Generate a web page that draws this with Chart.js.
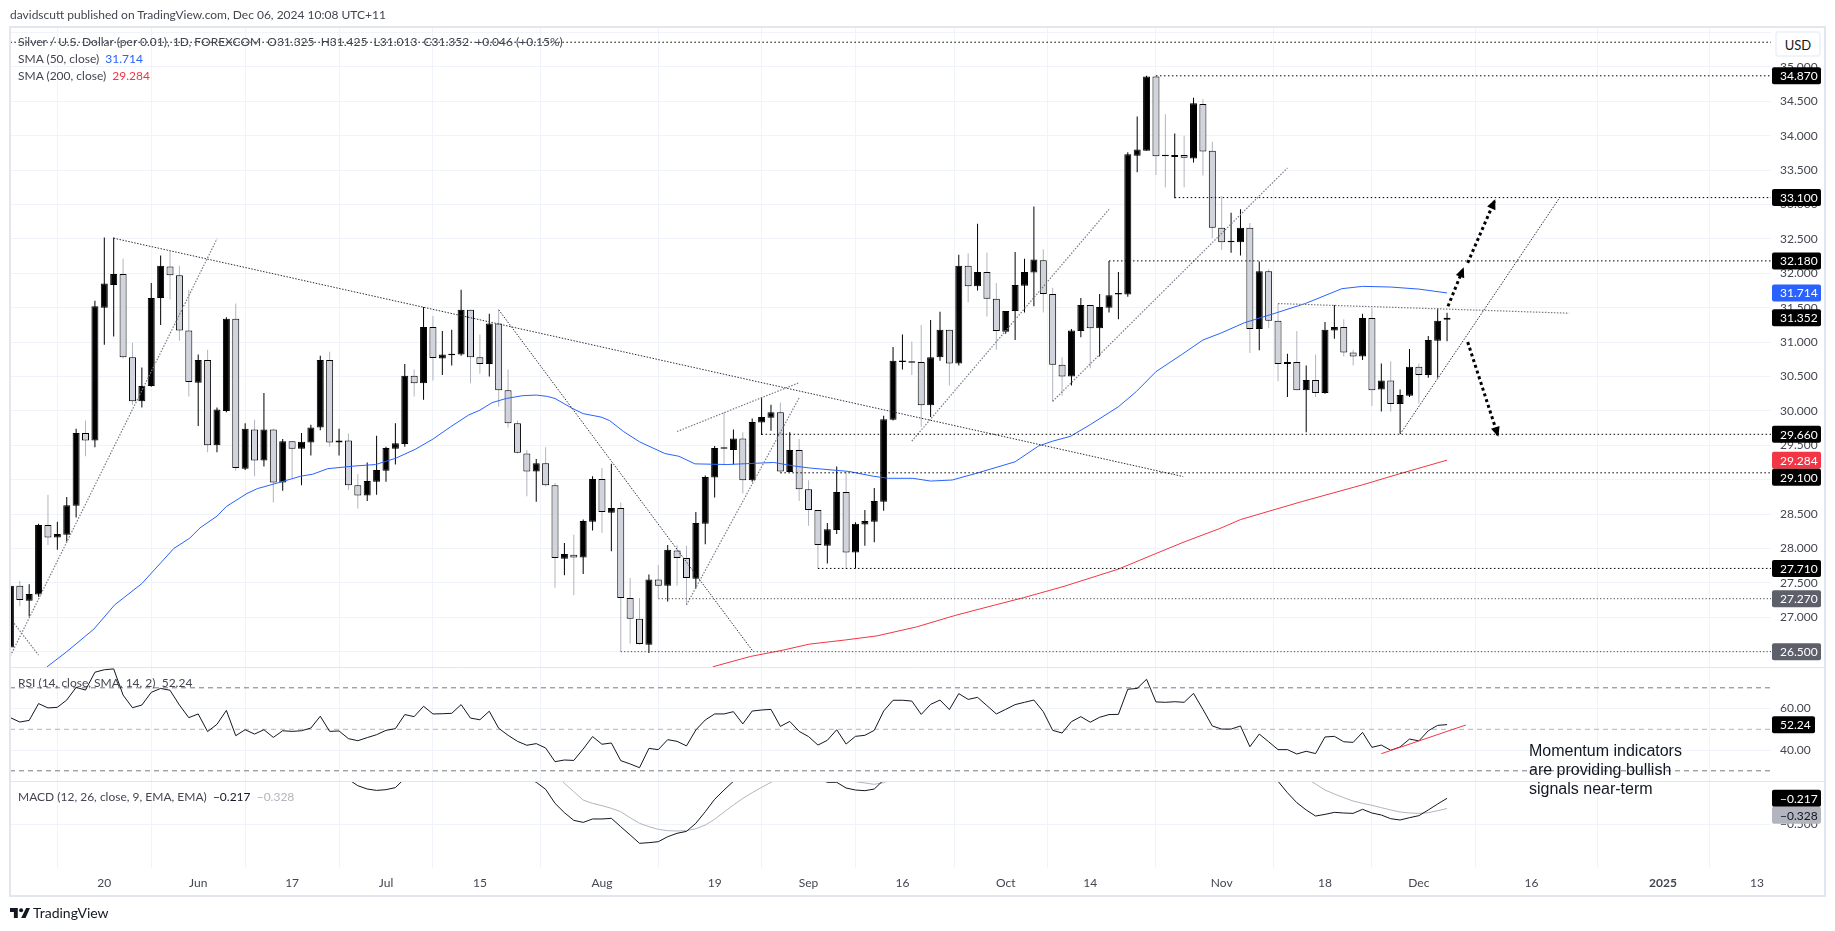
<!DOCTYPE html>
<html><head><meta charset="utf-8">
<script src="https://cdn.jsdelivr.net/npm/chart.js@4"></script>
<style>
html,body{margin:0;padding:0;background:#fff;overflow:hidden}
#wrap{position:relative;width:1835px;height:931px}
canvas{position:absolute;left:0;top:0}
.t{position:absolute;white-space:pre;font:12px Lato,sans-serif;color:#434651;line-height:16px}
.n{position:absolute;white-space:pre;font:16px "Liberation Sans",Arial,sans-serif;color:#131722;line-height:19px}
</style></head><body><div id="wrap">
<canvas id="c" width="1835" height="931"></canvas>
<div class="t" style="left:10px;top:7px">davidscutt published on TradingView.com, Dec 06, 2024 10:08 UTC+11</div>
<div class="t" style="left:18px;top:34px">Silver / U.S. Dollar (per 0.01), 1D, FOREXCOM  O31.325  H31.425  L31.013  C31.352  +0.046 (+0.15%)</div>
<div class="t" style="left:18px;top:51px">SMA (50, close)  <span style="color:#2962ff">31.714</span></div>
<div class="t" style="left:18px;top:68px">SMA (200, close)  <span style="color:#f23645">29.284</span></div>
<div class="t" style="left:18px;top:675px">RSI (14, close, SMA, 14, 2)  52.24</div>
<div class="t" style="left:18px;top:789px">MACD (12, 26, close, 9, EMA, EMA)  <span style="color:#131722">−0.217</span>  <span style="color:#b2b5be">−0.328</span></div>
<div class="n" style="left:1529px;top:741px">Momentum indicators
are providing bullish
signals near-term</div>
<div class="t" style="left:1775px;top:31px;width:46px;height:26px;line-height:24px;font-size:13px;text-align:center;border:2px solid #f0f3fa;border-radius:4px;box-sizing:border-box;background:#fff;color:#131722">USD</div>
<svg style="position:absolute;left:10px;top:908px" width="20" height="10" viewBox="0 0 36 18"><path fill="#131722" d="M0 0H14V18H7V7H0Z"/><circle cx="20" cy="4" r="3.6" fill="#131722"/><path fill="#131722" d="M29 0H36L28 18H20Z"/></svg>
<div class="t" style="left:33px;top:905px;font-size:14px;color:#131722">TradingView</div>
</div>
<script>
// ---- candles, one value per trading day starting 6 May 2024 ----
const opens=[26.56,27.46,27.24,27.33,28.34,28.16,28.20,28.62,29.68,29.57,31.50,31.83,31.99,30.78,30.14,30.36,31.64,32.10,31.97,31.17,30.41,30.74,29.50,30.00,31.34,29.16,29.73,29.28,29.73,28.96,29.56,29.45,29.54,29.76,30.74,29.54,29.57,28.92,28.77,28.97,29.13,29.45,29.52,30.51,30.40,31.22,30.76,30.81,30.82,31.47,30.78,30.68,31.27,30.30,29.82,29.38,29.12,29.24,28.92,27.85,27.91,27.87,28.39,29.01,28.52,28.59,27.28,26.98,26.60,27.55,27.46,27.97,27.86,27.56,28.36,29.03,29.46,29.43,29.60,28.99,29.83,29.90,29.98,29.11,29.43,28.86,28.56,28.04,28.27,28.82,27.94,28.35,28.39,28.68,29.87,30.71,30.72,30.71,30.08,30.78,31.18,30.69,32.11,31.81,32.02,31.63,31.15,31.45,31.82,32.01,32.19,31.70,30.67,30.50,31.16,31.54,31.20,31.50,31.69,31.69,33.71,33.78,34.86,33.71,33.69,33.72,33.67,34.46,33.78,32.66,32.45,32.45,32.66,31.19,32.03,31.31,30.68,30.71,30.30,30.45,30.26,31.17,31.22,30.85,30.79,31.35,30.31,30.44,30.10,30.22,30.64,30.52,31.02,31.325];
const highs=[27.50,27.53,27.48,28.36,28.78,28.39,28.75,29.74,29.86,31.60,32.52,32.52,32.21,30.99,30.63,31.86,32.26,32.32,32.11,31.76,30.82,30.89,30.05,31.36,31.56,29.82,29.87,30.26,29.74,29.59,29.56,29.68,29.80,30.80,30.86,29.74,29.67,29.08,29.25,29.64,29.48,29.82,30.68,30.60,31.51,31.38,31.16,31.18,31.76,31.47,31.11,31.41,31.47,30.60,29.86,29.43,29.30,29.47,28.95,28.08,28.20,28.42,29.05,29.17,29.23,28.67,27.57,27.28,27.62,27.76,28.05,28.05,28.04,28.53,29.06,29.49,29.98,29.73,29.69,29.89,30.20,30.09,30.12,29.69,29.59,28.99,28.56,28.37,29.19,29.12,28.38,28.56,28.88,29.93,30.93,31.11,31.01,31.25,31.32,31.44,31.18,32.27,32.29,32.72,32.30,31.86,31.45,32.31,32.21,32.97,32.35,31.79,30.78,31.19,31.64,31.54,31.70,32.18,32.02,33.76,34.28,34.87,34.87,34.31,34.03,34.00,34.55,34.53,33.91,33.12,32.88,32.93,32.73,32.17,32.06,31.56,30.83,31.16,30.66,30.82,31.29,31.54,31.33,30.89,31.41,31.49,30.69,30.72,30.31,30.90,30.69,31.09,31.49,31.425];
const lows=[26.45,27.16,27.01,27.30,28.05,27.98,28.10,28.45,29.34,29.47,30.96,31.08,30.76,30.09,30.05,30.35,31.25,31.62,31.02,30.21,29.78,29.40,29.40,29.98,29.13,29.14,29.05,29.19,28.67,28.84,29.02,28.92,29.35,29.72,29.48,29.35,28.85,28.58,28.69,28.78,28.97,29.22,29.48,30.21,30.16,30.44,30.52,30.66,30.80,30.40,30.54,30.50,30.06,29.76,29.38,28.76,28.68,28.90,27.43,27.61,27.32,27.63,28.26,28.23,27.96,26.50,26.62,26.60,26.48,27.28,27.23,27.46,27.18,27.42,28.06,28.74,29.22,29.22,28.80,28.97,29.65,29.71,29.09,29.11,28.69,28.33,27.71,27.78,28.21,27.70,27.71,28.04,28.09,28.55,29.86,30.60,30.52,29.77,29.91,30.73,30.37,30.66,31.58,31.75,31.37,30.89,31.12,31.03,31.43,31.52,31.43,30.13,30.22,30.37,31.07,30.62,30.79,31.43,31.33,31.66,33.47,33.78,33.43,33.25,33.09,33.25,33.61,33.42,32.51,32.34,32.30,32.26,30.84,30.88,31.20,30.43,30.20,30.30,29.69,30.20,30.25,31.05,30.79,30.66,30.74,30.07,29.99,29.99,29.67,30.20,30.11,30.48,30.48,31.013];
const closes=[27.46,27.25,27.34,28.34,28.16,28.21,28.63,29.68,29.57,31.52,31.85,31.99,30.78,30.14,30.36,31.64,32.11,31.97,31.17,30.42,30.74,29.50,30.02,31.34,29.17,29.74,29.28,29.73,28.96,29.56,29.45,29.55,29.76,30.74,29.54,29.57,28.92,28.77,28.98,29.14,29.46,29.53,30.51,30.40,31.22,30.77,30.82,30.82,31.47,30.78,30.68,31.27,30.30,29.82,29.39,29.12,29.24,28.92,27.86,27.92,27.87,28.40,29.01,28.53,28.59,27.28,26.98,26.61,27.55,27.46,27.98,27.86,27.57,28.37,29.04,29.46,29.45,29.60,28.99,29.84,29.91,29.98,29.12,29.43,28.86,28.56,28.05,28.28,28.82,27.94,28.36,28.40,28.69,29.88,30.73,30.72,30.70,30.08,30.78,31.18,30.69,32.11,31.81,32.02,31.63,31.16,31.45,31.83,32.02,32.20,31.70,30.67,30.50,31.17,31.54,31.20,31.51,31.68,31.70,33.73,33.80,34.86,33.70,33.70,33.72,33.68,34.47,33.77,32.66,32.45,32.46,32.66,31.19,32.03,31.31,30.68,30.71,30.30,30.45,30.26,31.18,31.22,30.85,30.79,31.35,30.30,30.44,30.10,30.23,30.64,30.52,31.03,31.31,31.352];
// ---- moving averages: [bar, price] ----
const sma50=[[3.9,26.28],[6,26.5],[8.9,26.83],[11.1,27.18],[14,27.49],[16,27.79],[17.4,28],[19.1,28.15],[20.2,28.3],[22,28.47],[23,28.61],[25.2,28.8],[26.3,28.87],[28.4,28.95],[30.9,29.05],[32.2,29.08],[33.8,29.16],[36.8,29.2],[38.9,29.22],[41,29.31],[43.1,29.44],[45,29.59],[46.9,29.77],[48.8,29.94],[50,30.01],[51.3,30.12],[52.8,30.18],[54.5,30.22],[56,30.23],[57.2,30.21],[58,30.18],[59.8,30.04],[61,29.96],[62.9,29.91],[63.8,29.86],[65.3,29.7],[67,29.55],[69.7,29.38],[71.2,29.34],[72.9,29.23],[76.3,29.22],[79.6,29.24],[81.3,29.25],[83.4,29.2],[85.1,29.17],[87.6,29.14],[89.3,29.12],[91.9,29.05],[93.5,29.02],[96.1,29.02],[98,28.98],[100.3,28.995],[102.8,29.09],[107,29.26],[109.5,29.49],[111,29.56],[112.9,29.63],[115,29.8],[118,30.06],[119.9,30.28],[122,30.57],[124.7,30.815],[127,31.03],[128.9,31.13],[131.4,31.28],[134.7,31.42],[137.9,31.56],[141.8,31.776],[144,31.81],[147,31.8],[150,31.77],[153,31.714]];
const sma200=[[74.8,26.28],[78.8,26.43],[82.2,26.52],[85.1,26.61],[88.9,26.67],[92.3,26.73],[96.5,26.86],[100.7,27.03],[104.9,27.18],[107.9,27.285],[112.1,27.445],[118,27.7],[121.7,27.91],[125.1,28.1],[128.8,28.29],[131,28.42],[137.5,28.68],[144,28.925],[147.8,29.08],[153,29.284]];
// ---- indicators ----
const rsi=[55.6,53.5,54.3,62.4,60.3,60.6,64.1,70.2,68.9,77.5,78.7,79.1,66.5,60.4,61.7,67.8,69.7,68.8,61.7,55.6,57.4,48.9,52.4,59.1,46.9,49.8,47.7,49.8,46.1,49.3,49.0,49.3,50.6,56.3,49.0,49.2,45.5,44.5,46.0,47.4,49.5,50.3,57.1,56.1,61.1,57.4,57.5,57.7,61.9,55.4,54.6,58.7,50.5,47.1,44.2,42.3,43.1,41.0,34.4,35.2,35.0,40.5,46.5,42.8,43.4,34.9,33.3,31.5,40.8,40.2,45.0,44.2,42.0,49.7,54.5,57.4,57.4,58.5,52.6,58.8,59.3,59.6,51.4,53.8,49.0,46.5,42.4,44.7,49.8,42.9,46.6,47.1,49.5,58.8,64.0,64.0,63.6,57.2,62.0,64.1,59.5,67.2,64.4,65.4,61.4,57.4,59.6,61.9,63.0,64.1,58.5,49.5,48.2,53.7,56.1,53.4,55.8,57.1,57.2,69.3,69.7,74.1,63.2,63.0,63.3,63.0,67.3,59.6,51.6,50.1,50.1,51.6,41.6,47.7,44.0,40.2,40.2,38.1,39.4,38.3,46.3,46.6,44.0,43.7,48.5,41.3,42.4,39.9,41.5,45.3,44.4,49.3,51.9,52.24];
const macdLine=[[36,-0.011],[37,-0.08],[38,-0.116],[39,-0.131],[40,-0.123],[41,-0.101],[42,0],[43,null],[55,0.011],[56,-0.043],[57,-0.119],[58,-0.272],[59,-0.373],[60,-0.457],[61,-0.479],[62,-0.442],[63,-0.442],[64,-0.435],[65,-0.526],[66,-0.616],[67,-0.707],[68,-0.7],[69,-0.689],[70,-0.635],[71,-0.598],[72,-0.577],[73,-0.489],[74,-0.363],[75,-0.228],[76,-0.127],[77,-0.032],[78,0.055],[79,null],[86,0],[87,-0.043],[88,-0.043],[89,-0.105],[90,-0.127],[91,-0.134],[92,-0.116],[93,-0.018],[94,null],[134,0.055],[135,-0.032],[136,-0.156],[137,-0.265],[138,-0.344],[139,-0.41],[140,-0.392],[141,-0.37],[142,-0.377],[143,-0.381],[144,-0.337],[145,-0.377],[146,-0.399],[147,-0.439],[148,-0.453],[149,-0.428],[150,-0.406],[151,-0.344],[152,-0.279],[153,-0.217]];
const macdSignal=[[58,0.055],[59,-0.054],[60,-0.145],[61,-0.236],[62,-0.272],[63,-0.297],[64,-0.326],[65,-0.363],[66,-0.428],[67,-0.489],[68,-0.526],[69,-0.555],[70,-0.569],[71,-0.573],[72,-0.569],[73,-0.548],[74,-0.508],[75,-0.446],[76,-0.366],[77,-0.29],[78,-0.218],[79,-0.156],[80,-0.098],[81,-0.043],[82,0.018],[83,null],[89,0],[90,-0.036],[91,-0.05],[92,-0.065],[93,-0.047],[94,0],[95,null],[138,0],[139,-0.061],[140,-0.127],[141,-0.17],[142,-0.21],[143,-0.247],[144,-0.272],[145,-0.293],[146,-0.319],[147,-0.344],[148,-0.366],[149,-0.377],[150,-0.381],[151,-0.374],[152,-0.352],[153,-0.328]];
const rsiBands=[70,50,30];
// ---- drawings: [fromBar, fromPrice, toBar, toPrice] ----
const levelLines=[[0,35.358,188,35.358],[122,34.87,188,34.87],[124,33.10,188,33.10],[117,32.18,188,32.18],[80,29.66,188,29.66],[82,29.10,188,29.10],[86,27.71,188,27.71]];
const faintLevels=[[69,27.27,188,27.27],[65,26.50,188,26.50]];
const darkTrends=[[11,32.51,124.9,29.045],[52,31.47,79,26.52],[148,29.66,165,33.10]];
const greyTrends=[[0,26.44,22,32.50],[0.4,26.91,3,26.45],[72,27.18,84,30.19],[71,29.70,84,30.41],[96,29.56,117,32.93],[111,30.14,136,33.53],[135,31.56,166,31.42]];
const arrows=[[153.1,31.52,154.7,32.06],[155.2,32.15,158.05,33.05],[155.2,31.0,158.4,29.65]];
const rsiTrend=[[146,38.24],[155,52.07]];
// ---- axis text ----
const timeTickBars=[10,20,30,40,50,63,75,85,95,106,115,129,140,150,162,176,186];
const timeTickLabels=['20','Jun','17','Jul','15','Aug','19','Sep','16','Oct','14','Nov','18','Dec','16','2025','13'];
const tagValues=[34.87,33.10,32.18,31.714,31.352,29.66,29.284,29.10,27.71,27.27,26.50];
const tagColors=['#000','#000','#000','#2962ff','#000','#000','#f23645','#000','#000','#5d606b','#5d606b'];
const rsiTagValues=[52.24];
const macdTagValues=[-0.217,-0.328];
const macdTagColors=['#000','#b2b5be'];

const TICK_FONT={family:'Lato, sans-serif',size:12};
const pts=a=>a.map(p=>({x:p[0],y:p[1]}));
const seg=s=>[{x:s[0],y:s[1]},{x:s[2],y:s[3]}];
const bars=opens.map((_,i)=>i);
const line=(data,yAxisID,color,width,dash,order)=>({type:'line',data,yAxisID,xAxisID:'x',borderColor:color,borderWidth:width,borderDash:dash||[],pointRadius:0,tension:0,spanGaps:false,order,parsing:false,normalized:true});
const datasets=[];
datasets.push({type:'bar',label:'wicks',data:bars.map(i=>({x:i,y:[lows[i],highs[i]]})),yAxisID:'y',barThickness:1,grouped:false,borderWidth:0,inflateAmount:0,backgroundColor:bars.map(i=>closes[i]>=opens[i]?'#000':'#b2b5be'),order:20});
datasets.push({type:'bar',label:'bodies',data:bars.map(i=>({x:i,y:[opens[i],closes[i]]})),yAxisID:'y',barThickness:7,grouped:false,minBarLength:1.5,borderWidth:1,borderSkipped:false,inflateAmount:0,borderColor:'#000',backgroundColor:bars.map(i=>closes[i]>=opens[i]?'#000':'#d1d4dc'),order:19});
datasets.push(line(pts(sma50),'y','#2962ff',1,null,10));
datasets.push(line(pts(sma200),'y','#f23645',1,null,10));
levelLines.forEach(s=>datasets.push(line(seg(s),'y','#000',1,[1.5,2.5],5)));
faintLevels.forEach(s=>datasets.push(line(seg(s),'y','#444',1,[1.2,2.2],5)));
darkTrends.forEach(s=>datasets.push(line(seg(s),'y','#2a2e39',1,[1.5,1.5],5)));
greyTrends.forEach(s=>datasets.push(line(seg(s),'y','#787b86',1.2,[1.5,1.5],5)));
arrows.forEach(s=>datasets.push(line(seg(s),'y','#000',3,[3,3],4)));
rsiBands.forEach(v=>datasets.push(line([{x:-1,y:v},{x:188,y:v}],'yRsi',v===50?'#b2b5be':'#787b86',1,[5,4],15)));
datasets.push(line(rsi.map((v,i)=>({x:i,y:v})),'yRsi','#131722',1,null,10));
datasets.push(line(pts(rsiTrend),'yRsi','#f23645',1,null,9));
datasets.push(line(pts(macdLine),'yMacd','#131722',1,null,9));
datasets.push(line(pts(macdSignal),'yMacd','#b2b5be',1,null,10));

const GRID='#f0f3fa', FRAME='#e4e6ee';
function fixedWidth(s){s.width=54;}
const panePlugin={id:'pane',
  beforeDatasetDraw(chart,args){
    const s=args.meta.yScale,a=chart.chartArea,c=chart.ctx;
    c.save();c.beginPath();c.rect(a.left,s.top,a.right-a.left,s.bottom-s.top);c.clip();
  },
  afterDatasetDraw(chart){chart.ctx.restore();},
  afterDatasetsDraw(chart){
    const c=chart.ctx,x=chart.scales.x,y=chart.scales.y;
    c.save();c.fillStyle='#000';
    arrows.forEach(s=>{
      const x1=x.getPixelForValue(s[0]),y1=y.getPixelForValue(s[1]),x2=x.getPixelForValue(s[2]),y2=y.getPixelForValue(s[3]);
      const an=Math.atan2(y2-y1,x2-x1);
      c.save();c.translate(x2,y2);c.rotate(an);
      c.beginPath();c.moveTo(2,0);c.lineTo(-8,-4.5);c.lineTo(-8,4.5);c.closePath();c.fill();c.restore();
    });
    c.restore();
  },
  afterDraw(chart){
    const c=chart.ctx,a=chart.chartArea,S=chart.scales;
    c.save();
    c.strokeStyle=FRAME;c.lineWidth=1;
    [S.yRsi.top,S.yRsi.bottom].forEach(v=>{c.beginPath();c.moveTo(a.left,Math.round(v)+.5);c.lineTo(1825,Math.round(v)+.5);c.stroke();});
    c.lineWidth=2;c.strokeRect(10,27,1815,869);
    const H=17,L=1772;
    const tags=(scale,vals,cols,w,fmt,textCols)=>{
      let prev=-1e9;
      vals.map((v,i)=>({v,i,p:scale.getPixelForValue(v)})).sort((p,q)=>p.p-q.p).forEach(t=>{
        let yy=t.p; if(yy-prev<H) yy=prev+H; prev=yy;
        c.fillStyle=cols[t.i];
        c.beginPath();c.roundRect(L,yy-H/2,w,H,2);c.fill();
        c.fillStyle=(textCols&&textCols[t.i])||'#fff';
        c.font='12px Lato, sans-serif';c.textAlign='left';c.textBaseline='middle';
        c.fillText(fmt(t.v),1780,yy+.5);
      });
    };
    tags(S.y,tagValues,tagColors,49,v=>v.toFixed(3));
    tags(S.yRsi,rsiTagValues,['#000'],43,v=>v.toFixed(2));
    tags(S.yMacd,macdTagValues,macdTagColors,49,v=>'−'+Math.abs(v).toFixed(3),['#fff','#131722']);
    c.restore();
  }
};
const yBase=(extra)=>Object.assign({type:'linear',position:'right',stack:'panes',afterFit:fixedWidth,border:{display:false},
  grid:{color:GRID,drawTicks:false,lineWidth:1},
  },extra);
const yTicks=(step,fmt)=>({stepSize:step,includeBounds:false,padding:9,crossAlign:'near',color:'#434651',font:TICK_FONT,callback:fmt,autoSkip:false});
new Chart(document.getElementById('c'),{
  data:{datasets},
  plugins:[panePlugin],
  options:{responsive:false,animation:false,devicePixelRatio:1,
    layout:{padding:{left:10,right:10,top:28,bottom:35}},
    plugins:{legend:{display:false},tooltip:{enabled:false},title:{display:false}},
    scales:{
      x:{type:'linear',position:'bottom',min:-0.043,max:187.5,offset:false,border:{display:false},
        grid:{color:GRID,drawTicks:false},
        afterFit(s){s.height=28;},
        afterBuildTicks(s){s.ticks=timeTickBars.map(v=>({value:v}));},
        ticks:{autoSkip:false,maxRotation:0,padding:8,color:'#434651',
          font:ctx=>({family:TICK_FONT.family,size:TICK_FONT.size,weight:timeTickLabels[ctx.index]==='2025'?'700':'400'}),
          callback:v=>timeTickLabels[timeTickBars.indexOf(v)]}},
      y:yBase({min:26.273,max:35.565,stackWeight:639.3,weight:1,ticks:yTicks(0.5,v=>v>35.2?'':v.toFixed(3))}),
      yRsi:yBase({min:24.94,max:79.88,stackWeight:114,weight:2,ticks:yTicks(20,v=>v.toFixed(2))}),
      yMacd:yBase({min:-0.9755,max:-0.032,stackWeight:86.7,weight:3,ticks:yTicks(0.5,v=>'−'+Math.abs(v).toFixed(3))})
    }
  }
});
</script></body></html>
